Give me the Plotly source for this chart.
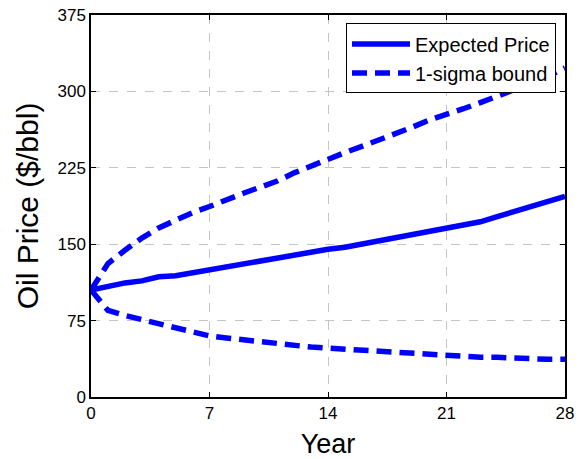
import plotly.graph_objects as go

years = list(range(0, 29))
expected_price = [105, 109, 112, 114, 118, 119, 122, 125, 128, 130, 133, 136, 139, 142,
                  145, 147, 150, 153, 157, 160, 162, 165, 169, 172, 177, 182, 187, 192, 197]
upper_bound = [105, 131, 144, 156, 166, 174, 181, 187, 194, 200, 206, 212, 220, 227,
               234, 240, 246, 252, 258, 265, 272, 277, 283, 289, 295, 301, 308, 315, 323]
lower_bound = [105, 85, 80, 76, 72, 68, 64, 60, 58, 56, 54, 53, 51, 49,
               48, 47, 46, 45, 44, 43, 42, 40, 40, 39, 39, 38, 37, 37, 37]
x_ticks = [0, 7, 14, 21, 28]
y_ticks = [0, 75, 150, 225, 300, 375]

BLUE = "#0000ff"
LW = 5.5
DASH = "15px,8px"

fig = go.Figure()
fig.add_trace(go.Scatter(x=years, y=expected_price, mode="lines", name="Expected Price",
                         line=dict(color=BLUE, width=LW)))
fig.add_trace(go.Scatter(x=years, y=upper_bound, mode="lines", name="1-sigma bound",
                         line=dict(color=BLUE, width=LW, dash=DASH)))
fig.add_trace(go.Scatter(x=years, y=lower_bound, mode="lines", name="1-sigma lower",
                         showlegend=False, line=dict(color=BLUE, width=LW, dash=DASH)))

font_family = "Liberation Sans, Arial, sans-serif"
axis_common = dict(
    showline=True, linecolor="black", linewidth=1.5, mirror="allticks",
    ticks="inside", ticklen=5, tickwidth=1, tickcolor="black",
    showgrid=True, gridcolor="#c4c4c4", gridwidth=1, griddash="dash",
    zeroline=False, automargin=False,
    tickfont=dict(family=font_family, size=17, color="black"),
)

fig.update_layout(
    width=585, height=459,
    margin=dict(l=91, r=20, t=15, b=62, autoexpand=False),
    paper_bgcolor="white", plot_bgcolor="white",
    font=dict(family=font_family, color="black"),
    xaxis=dict(range=[0, 28], tickvals=x_ticks, ticktext=[str(v) for v in x_ticks],
               title=dict(text="Year", font=dict(size=27), standoff=12), **axis_common),
    yaxis=dict(range=[0, 375], tickvals=y_ticks, ticktext=[str(v) for v in y_ticks],
               title=dict(text="Oil Price ($/bbl)", font=dict(size=30), standoff=10),
               **axis_common),
    legend=dict(x=0.981, y=0.978, xanchor="right", yanchor="top",
                bgcolor="white", bordercolor="black", borderwidth=1,
                font=dict(size=20, color="black"), itemwidth=58,
                tracegroupgap=0),
    showlegend=True,
)

fig.write_html("out.html")
